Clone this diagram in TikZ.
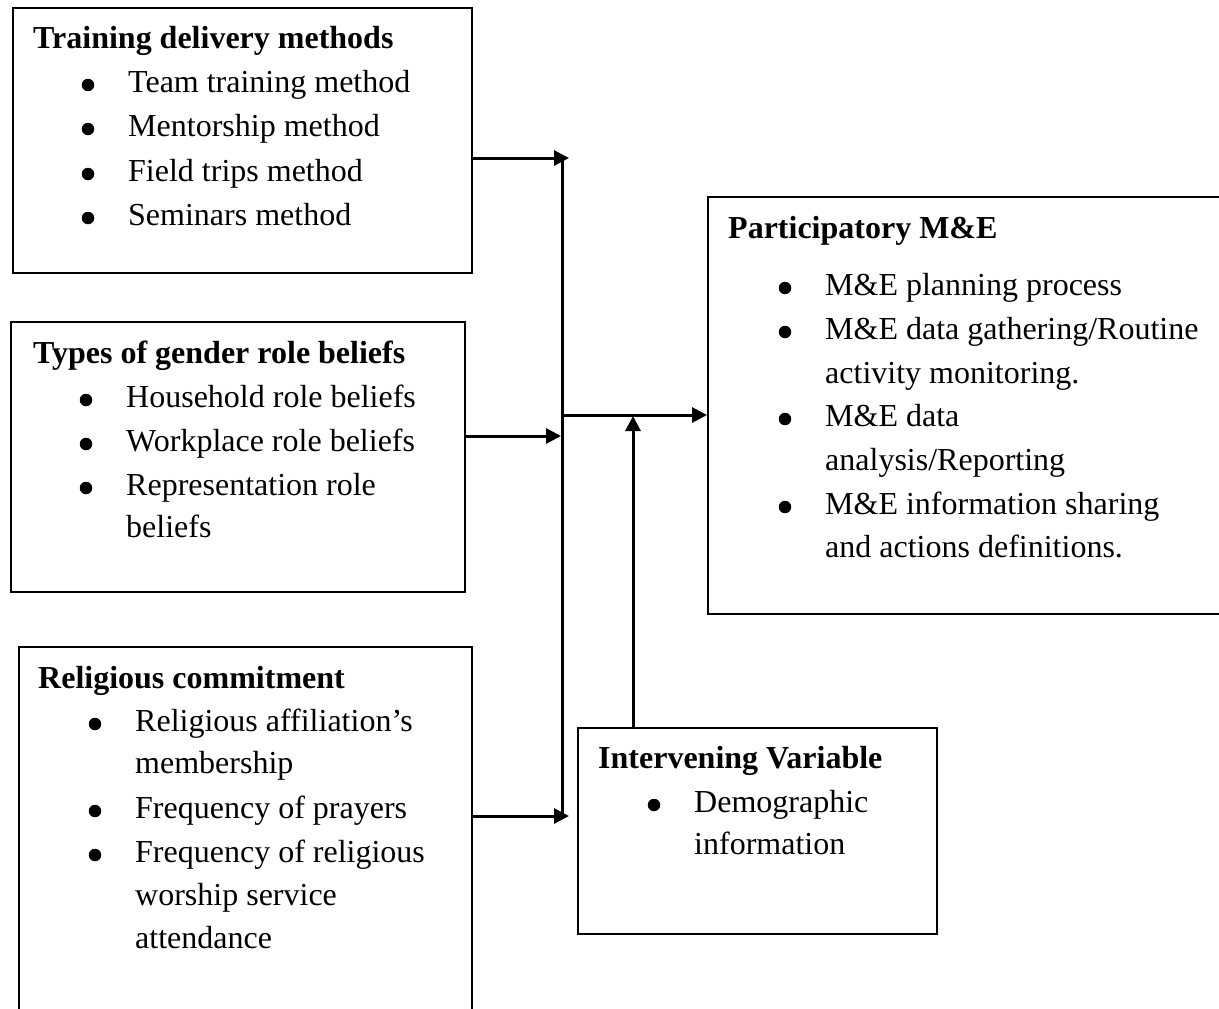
\documentclass[tikz,border=0pt]{standalone}
\usepackage{fontspec}
\setmainfont{Liberation Serif}
\usetikzlibrary{arrows.meta}
\tikzset{
  boxst/.style={draw, line width=1.8pt, inner sep=0pt, anchor=north west},
  txt/.style={anchor=base west, inner sep=0pt, font=\fontsize{32}{44}\selectfont},
  ttl/.style={txt, font=\fontsize{32}{44}\selectfont\bfseries},
  bul/.style={circle, fill=black, inner sep=0pt, minimum size=12.5pt},
  conn/.style={line width=3pt},
  arr/.style={conn, -{Triangle[length=15pt,width=15pt]}},
}
% \myitem{name}{text x}{baseline y}{text}
\newcommand{\myitem}[4]{%
  \node[bul] (#1d) at (#2-40,#3-7) {};
  \node[txt] (#1) at (#2,#3) {#4};}
\begin{document}
\begin{tikzpicture}[x=1pt,y=-1pt]
\useasboundingbox (0,0) rectangle (1219,1009);
\clip (0,0) rectangle (1219,1009);

% boxes
\node[boxst, minimum width=459pt, minimum height=265pt] (b1) at (12,7) {};
\node[boxst, minimum width=454pt, minimum height=270pt] (b2) at (10,321) {};
\node[boxst, minimum width=453pt, minimum height=400pt] (b3) at (18,646) {};
\node[boxst, minimum width=530pt, minimum height=417pt] (b4) at (707,196) {};
\node[boxst, minimum width=359pt, minimum height=206pt] (b5) at (577,727) {};

% box 1
\node[ttl] (t1) at (33,48) {Training delivery methods};
\myitem{i11}{128}{92}{Team training method}
\myitem{i12}{128}{136}{Mentorship method}
\myitem{i13}{128}{181}{Field trips method}
\myitem{i14}{128}{225}{Seminars method}

% box 2
\node[ttl] (t2) at (33,363) {Types of gender role beliefs};
\myitem{i21}{126}{407}{Household role beliefs}
\myitem{i22}{126}{451}{Workplace role beliefs}
\myitem{i23}{126}{495}{Representation role}
\node[txt] (i23b) at (126,537) {beliefs};

% box 3
\node[ttl] (t3) at (38,688) {Religious commitment};
\myitem{i31}{135}{731}{Religious affiliation’s}
\node[txt] (i31b) at (135,773) {membership};
\myitem{i32}{135}{818}{Frequency of prayers}
\myitem{i33}{135}{862}{Frequency of religious}
\node[txt] (i33b) at (135,905) {worship service};
\node[txt] (i33c) at (135,948) {attendance};

% box 4
\node[ttl] (t4) at (728,238) {Participatory M\&E};
\myitem{i41}{825}{295}{M\&E planning process}
\myitem{i42}{825}{339}{M\&E data gathering/Routine}
\node[txt] (i42b) at (825,383) {activity monitoring.};
\myitem{i43}{825}{426}{M\&E data}
\node[txt] (i43b) at (825,470) {analysis/Reporting};
\myitem{i44}{825}{514}{M\&E information sharing}
\node[txt] (i44b) at (825,557) {and actions definitions.};

% box 5
\node[ttl] (t5) at (598,768) {Intervening Variable};
\myitem{i51}{694}{812}{Demographic}
\node[txt] (i51b) at (694,854) {information};

% connectors
\coordinate (jtop) at (562,158);
\coordinate (jbot) at (562,816);
\coordinate (jmid) at (562,415);
\coordinate (e1) at (569,158);
\coordinate (e2) at (561,436);
\coordinate (e3) at (569,816);
\coordinate (e5) at (633,416);

\draw[conn] (jtop) -- (jbot);
\draw[arr] (b1.east |- e1) -- (e1);
\draw[arr] (b2.east |- e2) -- (e2);
\draw[arr] (b3.east |- e3) -- (e3);
\draw[arr] (jmid) -- (b4.west |- jmid);
\draw[arr] (b5.north -| e5) -- (e5);
\end{tikzpicture}
\end{document}
